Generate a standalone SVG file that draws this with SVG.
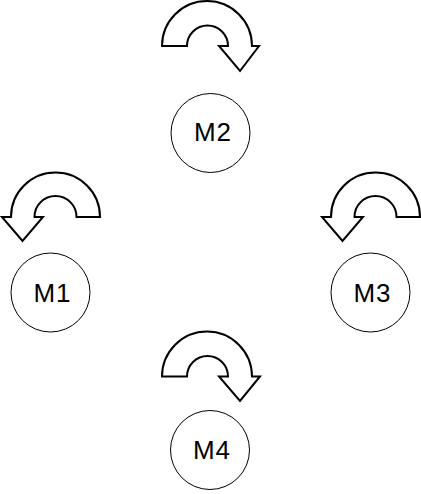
<svg xmlns="http://www.w3.org/2000/svg" width="421" height="494" viewBox="0 0 421 494">
<style>
.arr{fill:#fff;stroke:#000;stroke-width:2;stroke-linejoin:miter}
.n circle{fill:#fff;stroke:#000;stroke-width:1}
.n text{font-family:"Liberation Sans",Arial,sans-serif;font-size:26px;letter-spacing:1px;fill:#000;text-anchor:middle}
</style>
<g id="connectors">
<path id="uturn-top" class="arr" d="M162,46 A45,45 0 0 1 252,46 L259,46 L240,71 L219,46 L228,46 A20.5,20.5 0 0 0 187,46 Z"/>
<path id="uturn-left" class="arr" d="M100,217 A44.5,44.5 0 0 0 11,217 L2,217 L22.5,241 L43,217 L34.5,217 A21,21 0 0 1 76.5,217 Z"/>
<path id="uturn-right" class="arr" d="M420,217 A44.5,44.5 0 0 0 331,217 L322,217 L342.5,241 L363,217 L354.5,217 A21,21 0 0 1 396.5,217 Z"/>
<path id="uturn-bottom" class="arr" d="M162,376.5 A45,45 0 0 1 252,376.5 L260,376.5 L240,401 L219,376.5 L228,376.5 A20.5,20.5 0 0 0 187,376.5 Z"/>
</g>
<g id="M1" class="n"><circle cx="50.5" cy="292.5" r="39.5"/><text x="52.5" y="301.5">M1</text></g>
<g id="M2" class="n"><circle cx="210.5" cy="133" r="39.5"/><text x="213" y="141.3">M2</text></g>
<g id="M3" class="n"><circle cx="370.5" cy="292.5" r="39.5"/><text x="372.5" y="301.5">M3</text></g>
<g id="M4" class="n"><circle cx="210" cy="450" r="39.5"/><text x="212" y="459">M4</text></g>
</svg>
